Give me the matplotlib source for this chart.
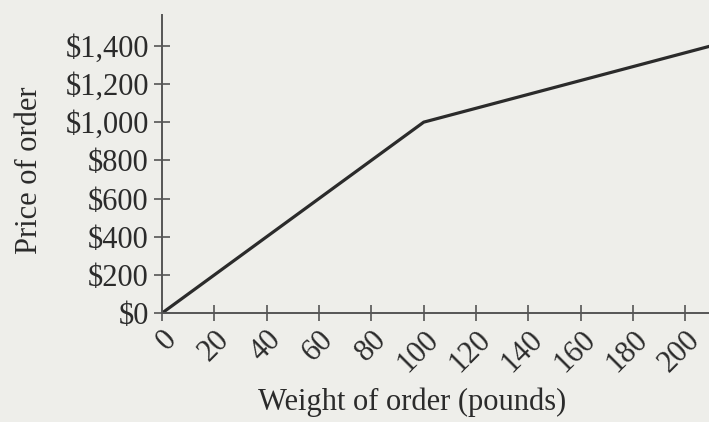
import matplotlib.pyplot as plt
from matplotlib.ticker import FuncFormatter

# data
weight = [0, 100, 210]
price = [0, 1000, 1400]
x_ticks = [0, 20, 40, 60, 80, 100, 120, 140, 160, 180, 200]
y_ticks = [0, 200, 400, 600, 800, 1000, 1200, 1400]

paper = "#eeeeea"
ink = "#2b2b2b"

plt.rcParams['font.family'] = ['Liberation Serif', 'DejaVu Serif']

fig = plt.figure(figsize=(7.09, 4.22), dpi=100, facecolor=paper)
ax = fig.add_axes([0.2285, 0.258, 0.7715, 0.706])
ax.set_facecolor(paper)

ax.plot(weight, price, color=ink, lw=2.3, solid_capstyle='butt', clip_on=True)

ax.set_xlim(0, 209)
ax.set_ylim(0, 1560)
for s in ['top', 'right']:
    ax.spines[s].set_visible(False)
for s in ['left', 'bottom']:
    ax.spines[s].set_color("#555555")
    ax.spines[s].set_linewidth(1.4)

ax.set_xticks(x_ticks)
ax.set_yticks(y_ticks)
ax.yaxis.set_major_formatter(FuncFormatter(lambda v, p: "${:,.0f}".format(v)))
ax.tick_params(direction='inout', length=11, width=1.2, color="#555555",
               labelsize=22, labelcolor=ink)
ax.tick_params(axis='y', pad=4)
ax.tick_params(axis='x', pad=3)
plt.setp(ax.get_xticklabels(), rotation=45, ha='right', va='top', rotation_mode='anchor')

ax.set_xlabel("Weight of order (pounds)", fontsize=22, color=ink)
ax.set_ylabel("Price of order", fontsize=22, color=ink)
ax.xaxis.set_label_coords(0.457, -0.25)
ax.yaxis.set_label_coords(-0.215, 0.48)

fig.savefig("out.png", dpi=100, facecolor=paper)
